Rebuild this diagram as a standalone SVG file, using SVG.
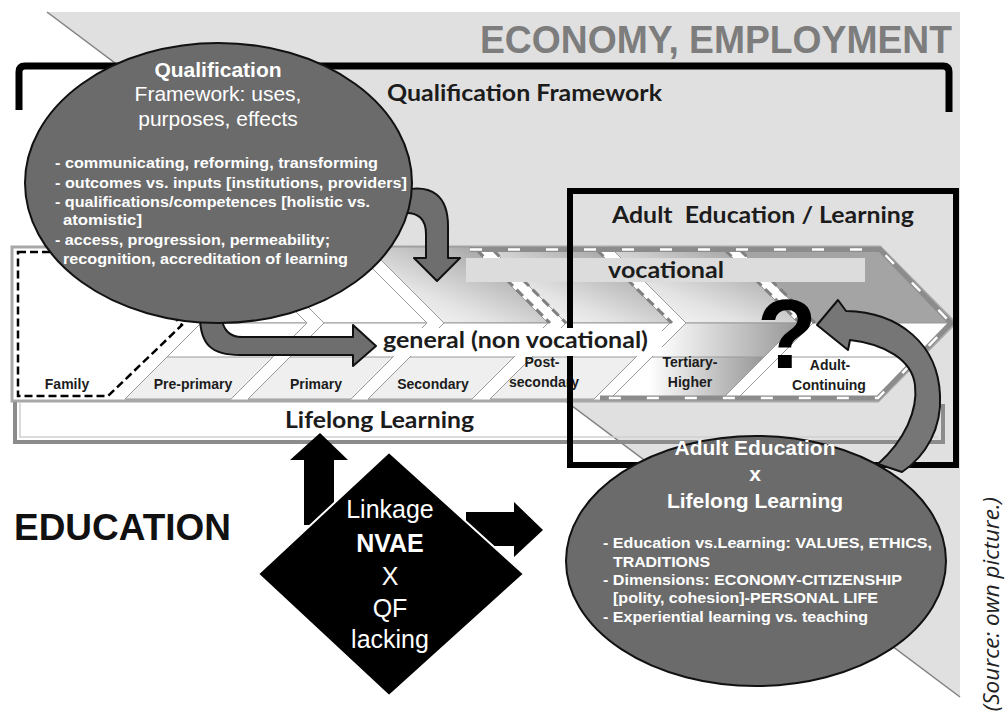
<svg xmlns="http://www.w3.org/2000/svg" width="1008" height="711" viewBox="0 0 1008 711">
<defs>
<linearGradient id="gUp" x1="0" y1="1" x2="1" y2="0">
<stop offset="0" stop-color="#ffffff"/><stop offset="0.35" stop-color="#e4e4e4"/><stop offset="1" stop-color="#8c8c8c"/>
</linearGradient>
<linearGradient id="gLow" x1="0" y1="0" x2="1" y2="0">
<stop offset="0.25" stop-color="#ffffff"/><stop offset="1" stop-color="#979797"/>
</linearGradient>
</defs>
<style>
.dk{font-family:Lato,"Liberation Sans",sans-serif;font-weight:bold;fill:#1c1c1c}
.st{font-family:"Liberation Sans",Arial,sans-serif;font-weight:bold;font-size:14px;fill:#1c1c1c;text-anchor:middle}
.wt{font-family:"Liberation Sans",Arial,sans-serif;fill:#ffffff;text-anchor:middle}
.bl{font-family:"Liberation Sans",Arial,sans-serif;font-weight:bold;font-size:15px;fill:#ffffff}
.chev{stroke:#9a9a9a;stroke-width:1}
.strip{fill:#efefef;stroke:#9a9a9a;stroke-width:1}
.ell{fill:#6b6b6b;stroke:#111;stroke-width:2}
.garrow{fill:#6e6e6e;stroke:#111;stroke-width:2;stroke-linejoin:round}
.gedge{fill:none;stroke:#8c8c8c;stroke-width:5}
.wdash{fill:none;stroke:#ffffff;stroke-width:2.5;stroke-dasharray:12 26}
.vdash{fill:none;stroke:#808080;stroke-width:3;stroke-dasharray:9 5}
</style>

<!-- background -->
<rect x="0" y="0" width="1008" height="711" fill="#ffffff"/>
<polygon points="47,12 960,12 960,697" fill="#e0e0e0"/>
<line x1="47" y1="12" x2="960" y2="697" stroke="#808080" stroke-width="1.5"/>

<g id="economy">
<text x="480" y="53" font-family="Liberation Sans, Arial, sans-serif" font-weight="bold" font-size="38" fill="#7d7d7d" textLength="472" lengthAdjust="spacingAndGlyphs">ECONOMY, EMPLOYMENT</text>
</g>

<g id="qf-bracket">
<path d="M19,110 L19,72 Q19,66 25,66 L943,66 Q949,66 949,72 L949,112" fill="none" stroke="#000" stroke-width="7"/>
<text class="dk" x="387" y="101" font-size="22" textLength="275" lengthAdjust="spacingAndGlyphs">Qualification Framework</text>
</g>

<!-- education stages band -->
<g id="stages-band">
<polygon points="12,247 880,247 955,323 878,401 12,401" fill="#ffffff" stroke="#a8a8a8" stroke-width="3"/>
<!-- upper halves -->
<polygon class="chev" points="125,247 231,247 307,323 201,323" fill="#ffffff"/>
<polygon class="chev" points="248,247 351,247 427,323 324,323" fill="#ffffff"/>
<polygon class="chev" points="368,247 472,247 548,323 444,323" fill="url(#gUp)"/>
<polygon class="chev" points="490,247 594,247 670,323 566,323" fill="url(#gUp)"/>
<polygon class="chev" points="610,247 722,247 798,323 686,323" fill="url(#gUp)"/>
<polygon class="chev" points="737,247 878,247 954,323 813,323" fill="#a4a4a4"/>
<!-- lower halves -->
<polygon class="chev" points="201,323 307,323 231,399 125,399" fill="#ffffff"/>
<polygon class="chev" points="324,323 427,323 351,399 248,399" fill="#ffffff"/>
<polygon class="chev" points="444,323 548,323 472,399 368,399" fill="#ffffff"/>
<polygon class="chev" points="566,323 670,323 594,399 490,399" fill="#ffffff"/>
<polygon class="chev" points="686,323 798,323 722,399 610,399" fill="url(#gLow)"/>
<polygon class="chev" points="813,323 954,323 878,399 737,399" fill="#ffffff"/>
<!-- dashed vocational boundaries -->
<path class="vdash" d="M477,250 L550,323 M493,250 L566,323 M597,250 L672,323 M725,250 L800,323 M740,250 L815,323"/>
<!-- label strips -->
<polygon class="strip" points="125,399 167,357 273,357 231,399"/>
<polygon class="strip" points="248,399 290,357 393,357 351,399"/>
<polygon class="strip" points="368,399 410,357 514,357 472,399"/>
<polygon class="strip" points="490,399 532,357 636,357 594,399"/>
<polygon points="610,399 652,357 764,357 722,399" fill="url(#gLow)" stroke="#9a9a9a" stroke-width="1"/>
<polygon points="737,399 779,357 920,357 878,399" fill="#ffffff" stroke="#9a9a9a" stroke-width="1"/>
<!-- dashed grey edges -->
<path class="gedge" d="M470,249.5 L880,249.5 L951,323 L878,398 L600,398"/>
<path class="wdash" d="M470,249.5 L880,249.5 L951,323 L878,398 L600,398"/>
<!-- family -->
<path d="M18,252 L108,252 L182,325 L108,396 L18,396 Z" fill="none" stroke="#000" stroke-width="2.5" stroke-dasharray="8 4"/>
<text class="st" x="67" y="389">Family</text>
<text class="st" x="193" y="389">Pre-primary</text>
<text class="st" x="316" y="389">Primary</text>
<text class="st" x="433" y="389">Secondary</text>
<text class="st" x="542" y="367">Post-</text>
<text class="st" x="544" y="387">secondary</text>
<text class="st" x="690" y="367">Tertiary-</text>
<text class="st" x="690" y="387">Higher</text>
<!-- vocational bar -->
<rect x="466" y="258" width="399" height="24" fill="#dcdcdc"/>
<text class="dk" x="608" y="278" font-size="22" textLength="116" lengthAdjust="spacingAndGlyphs">vocational</text>
</g>

<g id="lifelong-learning">
<path d="M15,402 L15,442 L943,442 L943,404" fill="none" stroke="#8c8c8c" stroke-width="4"/>
<path d="M20,403 L20,437 L938,437" fill="none" stroke="#cfcfcf" stroke-width="1.5"/>
<text class="dk" x="285" y="428" font-size="22" textLength="189" lengthAdjust="spacingAndGlyphs">Lifelong Learning</text>
</g>

<g id="adult-box">
<rect x="570" y="191" width="386" height="274" fill="none" stroke="#000" stroke-width="6"/>
<text class="dk" x="612" y="223" font-size="22" textLength="302" lengthAdjust="spacingAndGlyphs" xml:space="preserve">Adult  Education / Learning</text>
</g>

<g id="general">
<rect x="374" y="328" width="288" height="28" fill="#ffffff"/>
<text class="dk" x="383" y="348" font-size="22" textLength="265" lengthAdjust="spacingAndGlyphs">general (non vocational)</text>
</g>

<g id="connectors">
<!-- QF ellipse down arrow -->
<path class="garrow" d="M404,190 C432,184 448,196 448,226 L448,258 L460,258 L437,281 L414,258 L426,258 L426,234 C426,219 418,212 404,213 Z"/>
<!-- QF ellipse arrow to general -->
<path class="garrow" d="M200,316 C200,345 212,355 240,355 L353,355 L353,366 L376,346 L353,325 L353,337 L242,337 C230,337 222,330 222,316 Z"/>
</g>

<g id="qf-ellipse">
<ellipse class="ell" cx="218.5" cy="183" rx="193.5" ry="140"/>
<text class="wt" x="218" y="77" font-size="21" font-weight="bold">Qualification</text>
<text class="wt" x="218" y="101" font-size="21">Framework: uses,</text>
<text class="wt" x="218" y="126" font-size="21">purposes, effects</text>
<text class="bl" x="55" y="168" textLength="323" lengthAdjust="spacingAndGlyphs">- communicating, reforming, transforming</text>
<text class="bl" x="55" y="188" textLength="352" lengthAdjust="spacingAndGlyphs">- outcomes vs. inputs [institutions, providers]</text>
<text class="bl" x="55" y="207" textLength="315" lengthAdjust="spacingAndGlyphs">- qualifications/competences [holistic vs.</text>
<text class="bl" x="63" y="225" textLength="79" lengthAdjust="spacingAndGlyphs">atomistic]</text>
<text class="bl" x="55" y="245" textLength="275" lengthAdjust="spacingAndGlyphs">- access, progression, permeability;</text>
<text class="bl" x="63" y="264" textLength="285" lengthAdjust="spacingAndGlyphs">recognition, accreditation of learning</text>
</g>

<g id="adult-continuing">
<text x="787" y="368" font-family="Liberation Sans, Arial, sans-serif" font-weight="bold" font-size="98" fill="#000" text-anchor="middle">?</text>
<text class="st" x="830" y="370">Adult-</text>
<text class="st" x="829" y="390">Continuing</text>
</g>

<g id="connectors-2">
<!-- curved arrow from adult ellipse to adult-continuing -->
<path class="garrow" style="fill:#767676" d="M878,464 C905,440 918,410 915,385 C912,360 885,344 850,340 L848,350 L817,325 L838,300 L846,311 C900,312 938,345 940,395 C942,428 926,456 902,472 Z"/>
<!-- black arrows from diamond -->
<path d="M304,525 L304,460 L290,460 L320,433 L348,460 L334,460 L334,525 Z" fill="#000"/>
<path d="M466,512 L514,512 L514,502 L543,530 L514,557 L514,546 L466,546 Z" fill="#000"/>
</g>

<g id="ae-ll-ellipse">
<ellipse class="ell" cx="756" cy="561" rx="190" ry="125"/>
<text class="wt" x="755" y="455" font-size="21" font-weight="bold">Adult Education</text>
<text class="wt" x="755" y="481" font-size="21" font-weight="bold">x</text>
<text class="wt" x="755" y="508" font-size="21" font-weight="bold">Lifelong Learning</text>
<text class="bl" x="603" y="548" textLength="329" lengthAdjust="spacingAndGlyphs">- Education vs.Learning: VALUES, ETHICS,</text>
<text class="bl" x="613" y="567" textLength="97" lengthAdjust="spacingAndGlyphs">TRADITIONS</text>
<text class="bl" x="603" y="585" textLength="299" lengthAdjust="spacingAndGlyphs">- Dimensions: ECONOMY-CITIZENSHIP</text>
<text class="bl" x="613" y="603" textLength="265" lengthAdjust="spacingAndGlyphs">[polity, cohesion]-PERSONAL LIFE</text>
<text class="bl" x="603" y="622" textLength="265" lengthAdjust="spacingAndGlyphs">- Experiential learning vs. teaching</text>
</g>

<g id="linkage-diamond">
<polygon points="389,452 524,574 389,696 258,574" fill="#000" stroke="#ffffff" stroke-width="2"/>
<text class="wt" x="390" y="518" font-size="25">Linkage</text>
<text class="wt" x="390" y="552" font-size="25" font-weight="bold">NVAE</text>
<text class="wt" x="390" y="585" font-size="25">X</text>
<text class="wt" x="390" y="617" font-size="25">QF</text>
<text class="wt" x="390" y="648" font-size="25">lacking</text>
</g>

<g id="education">
<text x="14" y="540" font-family="Liberation Sans, Arial, sans-serif" font-weight="bold" font-size="36" fill="#111" textLength="217" lengthAdjust="spacingAndGlyphs">EDUCATION</text>
</g>

<g id="source">
<text transform="translate(999,497) rotate(-90)" text-anchor="end" font-family="Open Sans, Liberation Sans, sans-serif" font-style="italic" font-size="22.5" fill="#222">(Source: own picture.)</text>
</g>
</svg>
